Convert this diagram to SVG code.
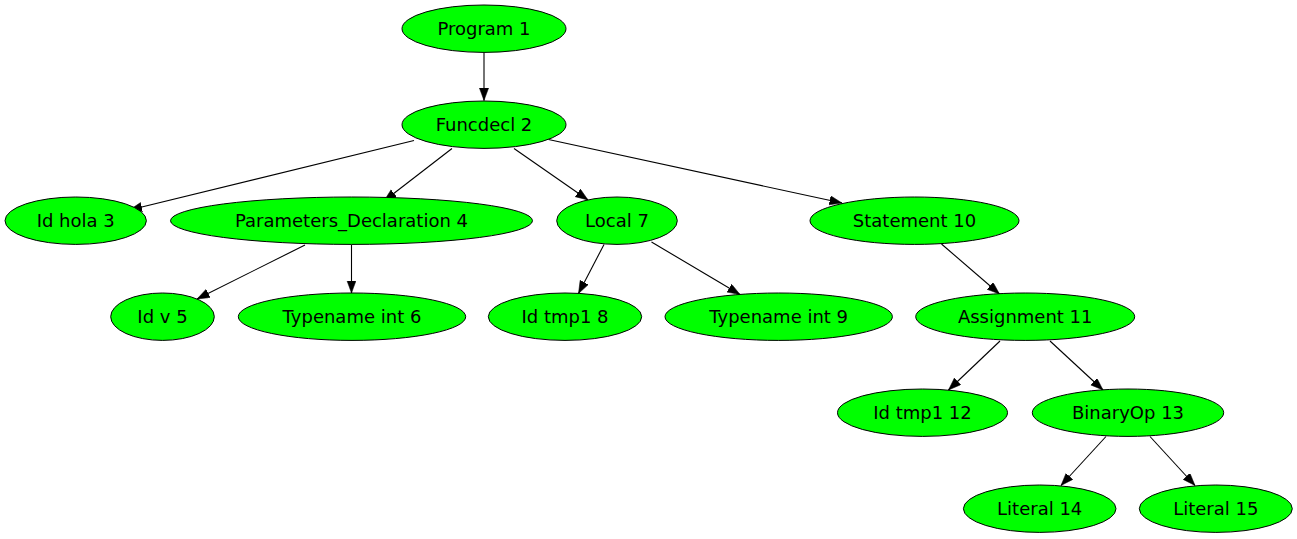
<svg xmlns="http://www.w3.org/2000/svg" width="1297" height="539" viewBox="0 0 1297 539">
<style>
.n ellipse{fill:#00ff00;stroke:#000;stroke-width:1}
.n text{font-family:"DejaVu Sans",sans-serif;font-size:18px;text-anchor:middle;fill:#000}
.e line{stroke:#000;stroke-width:1.1;marker-end:url(#ah)}
</style>
<defs>
<marker id="ah" markerUnits="userSpaceOnUse" markerWidth="14" markerHeight="10" refX="12.5" refY="4.6" orient="auto">
<path d="M0,0 L12.5,4.6 L0,9.2 z" fill="#000" stroke="#000" stroke-width="0.5"/>
</marker>
</defs>
<rect width="1297" height="539" fill="#fff"/>
<g id="edges" class="e">
<line x1="484" y1="52.5" x2="484" y2="100.5"/>
<line x1="414" y1="140.5" x2="129.5" y2="210"/>
<line x1="452" y1="148.5" x2="384" y2="201"/>
<line x1="514" y1="148.5" x2="588" y2="200"/>
<line x1="548.5" y1="139.5" x2="842" y2="203"/>
<line x1="305" y1="245" x2="197" y2="299"/>
<line x1="351.5" y1="244.5" x2="351.5" y2="293"/>
<line x1="604" y1="244.5" x2="578.5" y2="293.5"/>
<line x1="651.5" y1="242" x2="740" y2="294.5"/>
<line x1="941.5" y1="244" x2="999.5" y2="294"/>
<line x1="1000" y1="341" x2="948.5" y2="390"/>
<line x1="1050" y1="341" x2="1103" y2="390"/>
<line x1="1106" y1="436.5" x2="1061" y2="485.5"/>
<line x1="1150" y1="436.5" x2="1195" y2="485.5"/>
</g>
<g id="n1" class="n"><ellipse cx="484" cy="28.7" rx="82" ry="23.7"/><text x="484" y="35">Program 1</text></g>
<g id="n2" class="n"><ellipse cx="484" cy="124.7" rx="82" ry="23.7"/><text x="484" y="131">Funcdecl 2</text></g>
<g id="n3" class="n"><ellipse cx="75.7" cy="220.7" rx="70.7" ry="23.7"/><text x="75.7" y="227">Id hola 3</text></g>
<g id="n4" class="n"><ellipse cx="351.5" cy="220.7" rx="181" ry="23.7"/><text x="351.5" y="227">Parameters_Declaration 4</text></g>
<g id="n7" class="n"><ellipse cx="617" cy="220.7" rx="60.3" ry="23.7"/><text x="617" y="227">Local 7</text></g>
<g id="n10" class="n"><ellipse cx="914.5" cy="220.7" rx="104.5" ry="23.7"/><text x="914.5" y="227">Statement 10</text></g>
<g id="n5" class="n"><ellipse cx="162.5" cy="316.7" rx="51.8" ry="23.7"/><text x="162.5" y="323">Id v 5</text></g>
<g id="n6" class="n"><ellipse cx="352" cy="316.7" rx="113.7" ry="23.7"/><text x="352" y="323">Typename int 6</text></g>
<g id="n8" class="n"><ellipse cx="565" cy="316.7" rx="76.7" ry="23.7"/><text x="565" y="323">Id tmp1 8</text></g>
<g id="n9" class="n"><ellipse cx="778.7" cy="316.7" rx="113.7" ry="23.7"/><text x="778.7" y="323">Typename int 9</text></g>
<g id="n11" class="n"><ellipse cx="1025.2" cy="316.7" rx="109.5" ry="23.7"/><text x="1025.2" y="323">Assignment 11</text></g>
<g id="n12" class="n"><ellipse cx="922.5" cy="412.7" rx="85" ry="23.7"/><text x="922.5" y="419">Id tmp1 12</text></g>
<g id="n13" class="n"><ellipse cx="1128" cy="412.7" rx="95.7" ry="23.7"/><text x="1128" y="419">BinaryOp 13</text></g>
<g id="n14" class="n"><ellipse cx="1039.7" cy="508.7" rx="76.3" ry="23.7"/><text x="1039.7" y="515">Literal 14</text></g>
<g id="n15" class="n"><ellipse cx="1215.8" cy="508.7" rx="76.5" ry="23.7"/><text x="1215.8" y="515">Literal 15</text></g>
</svg>
